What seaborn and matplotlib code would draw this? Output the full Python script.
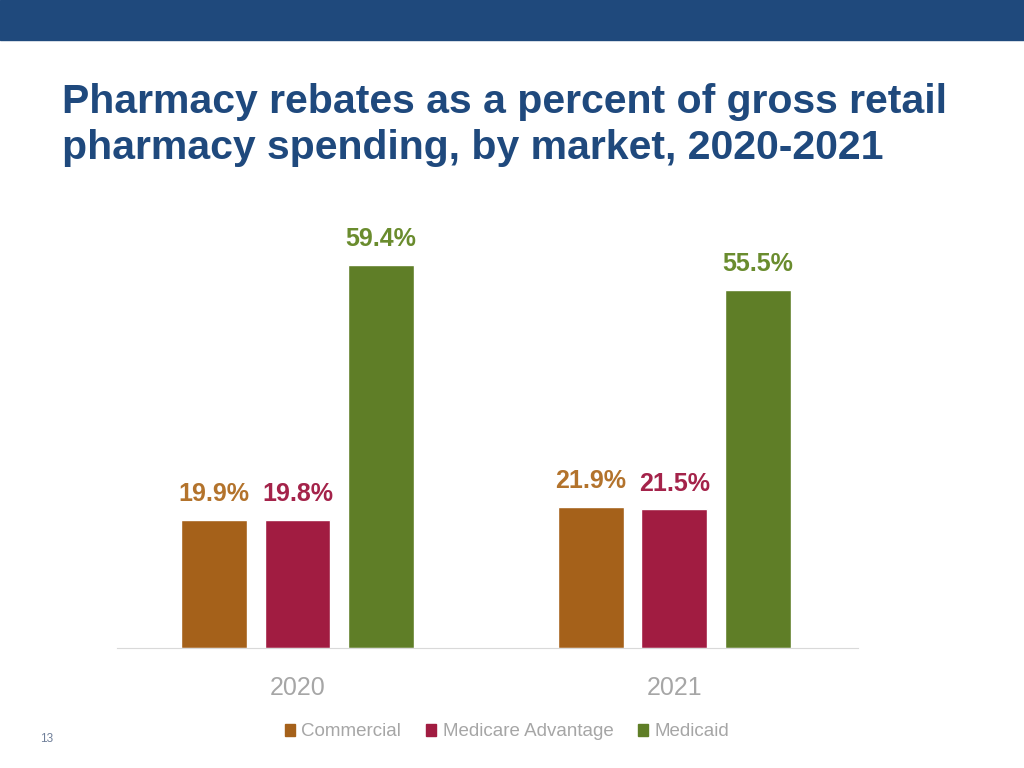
import matplotlib
matplotlib.use("Agg")
import matplotlib.pyplot as plt
from matplotlib.patches import Rectangle
import seaborn as sns
import pandas as pd

years = ["2020", "2021"]
markets = ["Commercial", "Medicare Advantage", "Medicaid"]
commercial = [19.9, 21.9]
medicare_adv = [19.8, 21.5]
medicaid = [59.4, 55.5]

bar_colors = ["#A5611A", "#A11C41", "#5F7E27"]
label_colors = ["#B3732C", "#A4234A", "#6A8C2E"]

df = pd.DataFrame({
    "year": years * 3,
    "market": [m for m in markets for _ in years],
    "pct": commercial + medicare_adv + medicaid,
})

sns.set_style("white")
plt.rcParams["font.family"] = ["Liberation Sans", "DejaVu Sans"]

fig = plt.figure(figsize=(10.24, 7.68), dpi=100)

# header band
fig.patches.append(Rectangle((0, 1 - 40 / 768), 1, 40 / 768, transform=fig.transFigure,
                             color="#1F497C", zorder=0))
fig.text(62 / 1024, 1 - 102 / 768, "Pharmacy rebates as a percent of gross retail",
         fontsize=29.5, fontweight="bold", color="#1F497D", va="center")
fig.text(62 / 1024, 1 - 148 / 768, "pharmacy spending, by market, 2020-2021",
         fontsize=29.5, fontweight="bold", color="#1F497D", va="center")
fig.text(47 / 1024, 1 - 739 / 768, "13", fontsize=8.5, color="#6F7F99", ha="center", va="center")

ax = fig.add_axes([117 / 1024, 1 - 648 / 768, (858 - 117) / 1024, (648 - 229) / 768])
sns.barplot(data=df, x="year", y="pct", hue="market", hue_order=markets,
            palette=bar_colors, width=0.664, gap=0.21, ax=ax, legend=False,
            saturation=1)
ax.set_ylim(0, 65)
ax.set_xlim(-0.479, 1.487)
ax.set_xlabel("")
ax.set_ylabel("")
ax.set_yticks([])
for s in ["top", "left", "right"]:
    ax.spines[s].set_visible(False)
ax.spines["bottom"].set_color("#D9D9D9")
ax.tick_params(axis="x", length=0, pad=20, labelsize=18, labelcolor="#A6A6A6")

for cont, col in zip(ax.containers, label_colors):
    ax.bar_label(cont, labels=[f"{v:.1f}%" for v in cont.datavalues], padding=10,
                 color=col, fontsize=18, fontweight="bold")

handles = [Rectangle((0, 0), 1, 1, color=c) for c in bar_colors]
fig.legend(handles, markets, loc="center", bbox_to_anchor=(507 / 1024, 1 - 732 / 768),
           ncol=3, frameon=False, handlelength=0.55, handleheight=0.55,
           handletextpad=0.35, columnspacing=1.3, labelcolor="#A6A6A6",
           prop={"size": 13.5})

fig.savefig("out.png", dpi=100)
